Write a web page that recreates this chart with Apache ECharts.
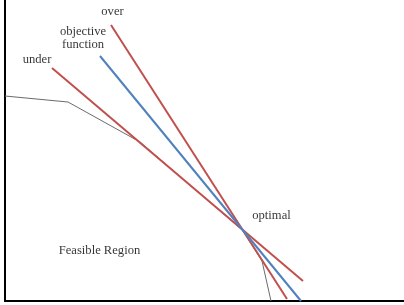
<!DOCTYPE html>
<html>
<head>
<meta charset="utf-8">
<script src="https://cdn.jsdelivr.net/npm/echarts@6/dist/echarts.min.js"></script>
<style>
  html, body { margin: 0; padding: 0; background: #fff; }
  #chart { width: 404px; height: 305px; }
</style>
</head>
<body>
<div id="chart"></div>
<script>
// feasible region boundary (thin grey)
var feasibleX = [0, 63, 135, 237.7, 257, 266];
var feasibleY = [205, 199, 159, 70.5, 40, 0];

// the three objective lines
var underX = [47, 298];
var underY = [233, 20];
var objectiveX = [95, 296];
var objectiveY = [245, 0];
var overX = [106, 282];
var overY = [276, 2];

// annotations
var labelText = ['over', 'objective\nfunction', 'under', 'optimal', 'Feasible Region'];
var labelX = [107.5, 78, 32, 266.5, 94.5];
var labelY = [289, 263, 241, 85, 50];

function pairs(xs, ys) {
    return xs.map(function (x, i) { return [x, ys[i]]; });
}

var myChart = echarts.init(document.getElementById('chart'));

var option = {
    animation: false,
    grid: {
        left: 5,
        right: 0,
        top: 0,
        bottom: 4
    },
    xAxis: {
        type: 'value',
        min: 0,
        max: 399,
        axisLine: { show: true, lineStyle: { color: '#000', width: 2 } },
        axisTick: { show: false },
        axisLabel: { show: false },
        splitLine: { show: false }
    },
    yAxis: {
        type: 'value',
        min: 0,
        max: 301,
        axisLine: { show: true, lineStyle: { color: '#000', width: 2 } },
        axisTick: { show: false },
        axisLabel: { show: false },
        splitLine: { show: false }
    },
    series: [
        {
            name: 'feasible',
            type: 'line',
            showSymbol: false,
            data: pairs(feasibleX, feasibleY),
            lineStyle: { color: '#6b6b6b', width: 1 }
        },
        {
            name: 'under',
            type: 'line',
            showSymbol: false,
            data: pairs(underX, underY),
            lineStyle: { color: '#c0504d', width: 2 }
        },
        {
            name: 'over',
            type: 'line',
            showSymbol: false,
            data: pairs(overX, overY),
            lineStyle: { color: '#c0504d', width: 2 }
        },
        {
            name: 'objective function',
            type: 'line',
            showSymbol: false,
            data: pairs(objectiveX, objectiveY),
            lineStyle: { color: '#4f81bd', width: 2 }
        },
        {
            name: 'labels',
            type: 'scatter',
            symbolSize: 0,
            data: labelText.map(function (t, i) {
                return { name: t, value: [labelX[i], labelY[i]] };
            }),
            label: {
                show: true,
                position: 'inside',
                formatter: function (p) { return p.name; },
                fontFamily: 'Liberation Serif',
                fontSize: 12.6,
                lineHeight: 13,
                color: '#000',
                align: 'center'
            }
        }
    ]
};

myChart.setOption(option);
</script>
</body>
</html>
